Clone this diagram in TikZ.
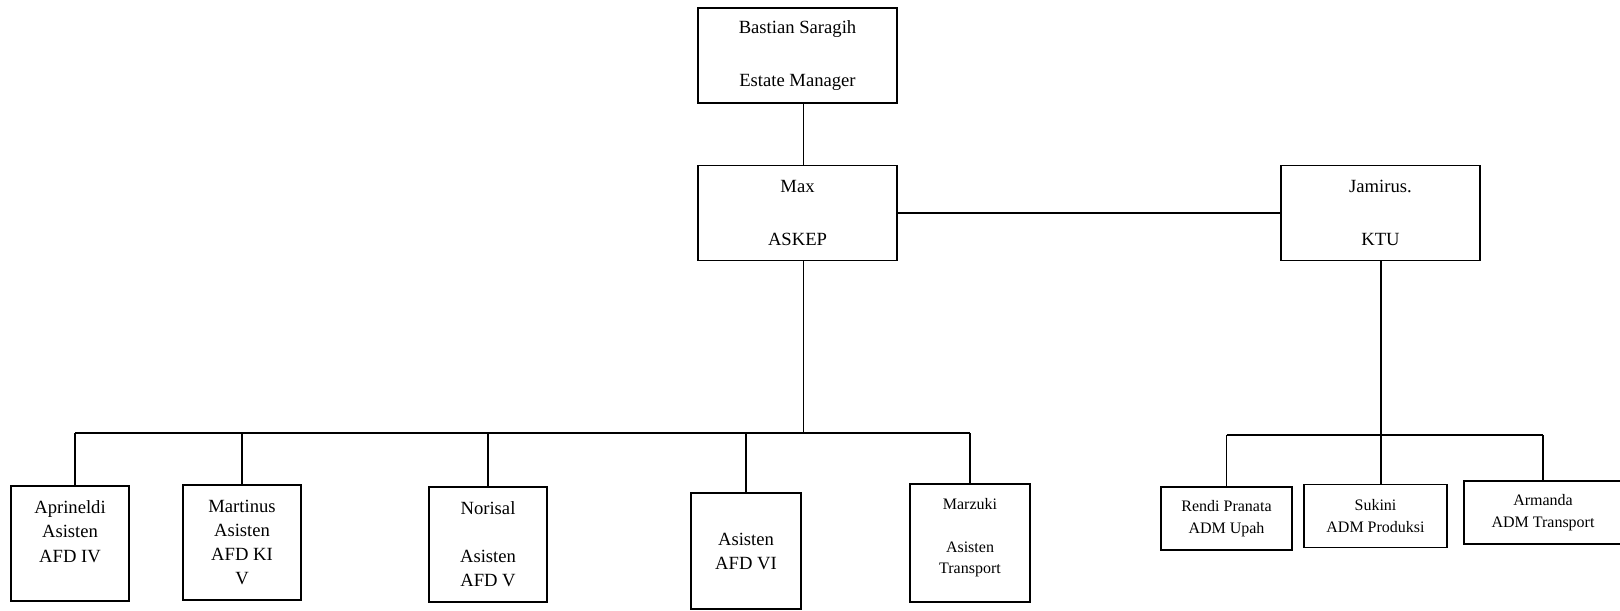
\documentclass[tikz,border=0pt]{standalone}
\usepackage{fontspec}
\setmainfont{Liberation Serif}
\usepackage{tikz}
\usetikzlibrary{calc,positioning}

\begin{document}
\begin{tikzpicture}[
  box/.style={draw, line width=1.1pt, align=center, inner sep=0pt},
  big/.style={box, minimum width=3.98cm, minimum height=1.90cm,
              font=\fontsize{10.6pt}{15.1pt}\selectfont},
  afd/.style={box, minimum height=2.30cm,
              font=\fontsize{10.6pt}{13.7pt}\selectfont},
  adm/.style={box, minimum height=1.26cm,
              font=\fontsize{9.1pt}{12.5pt}\selectfont},
  link/.style={line width=1.0pt}]
  \useasboundingbox (0,0) rectangle (32.4,-12.2);
  % top level
  \node[big] (mgr)   at (15.95,-1.11) {Bastian Saragih\\~\\Estate Manager};
  \node[big] (askep) at (15.95,-4.26) {Max\\~\\ASKEP};
  \node[big] (ktu)   at (27.61,-4.26) {Jamirus.\\~\\KTU};
  % asisten
  \node[afd, minimum width=2.36cm] (afdiv)  at (1.40,-10.87) {Aprineldi\\Asisten\\AFD IV\\~};
  \node[afd, minimum width=2.36cm] (afdkiv) at (4.84,-10.85) {Martinus\\Asisten\\AFD KI\\V};
  \node[afd, minimum width=2.36cm] (afdv)   at (9.76,-10.89) {Norisal\\~\\Asisten\\AFD V};
  \node[afd, minimum width=2.20cm, minimum height=2.32cm] (afdvi) at (14.92,-11.02) {Asisten\\AFD VI};
  \node[afd, minimum width=2.40cm, minimum height=2.36cm,
        font=\fontsize{9.1pt}{12pt}\selectfont] (trans) at (19.40,-10.86) {Marzuki\\~\\Asisten\\Transport\\[-0.14cm]~};
  % adm
  \node[adm, minimum width=2.62cm] (upah)     at (24.53,-10.37) {Rendi Pranata\\ADM Upah};
  \node[adm, minimum width=2.86cm] (prod)     at (27.51,-10.32) {Sukini\\ADM Produksi};
  \node[adm, minimum width=3.16cm] (admtrans) at (30.86,-10.25) {Armanda\\ADM Transport};
  % junctions
  \coordinate (bus)  at (16.07,-8.66);
  \coordinate (rbus) at (27.62,-8.70);
  \draw[link] (mgr.south -| bus) -- (askep.north -| bus);
  \draw[link] (askep.east) -- (ktu.west);
  \draw[link] (askep.south -| bus) -- (bus);
  \draw[link] ($(afdiv.north |- bus)+(0.1,0)$) -- (trans.north |- bus);
  \draw[link] ($(afdiv.north)+(0.1,0)$) -- ($(afdiv.north |- bus)+(0.1,0)$);
  \draw[link] (afdkiv.north) -- (afdkiv.north |- bus);
  \draw[link] (afdv.north) -- (afdv.north |- bus);
  \draw[link] (afdvi.north) -- (afdvi.north |- bus);
  \draw[link] (trans.north) -- (trans.north |- bus);
  \draw[link] (ktu.south -| rbus) -- (prod.north -| rbus);
  \draw[link] (upah.north |- rbus) -- (admtrans.north |- rbus);
  \draw[link] (upah.north) -- (upah.north |- rbus);
  \draw[link] (admtrans.north) -- (admtrans.north |- rbus);
\end{tikzpicture}
\end{document}
